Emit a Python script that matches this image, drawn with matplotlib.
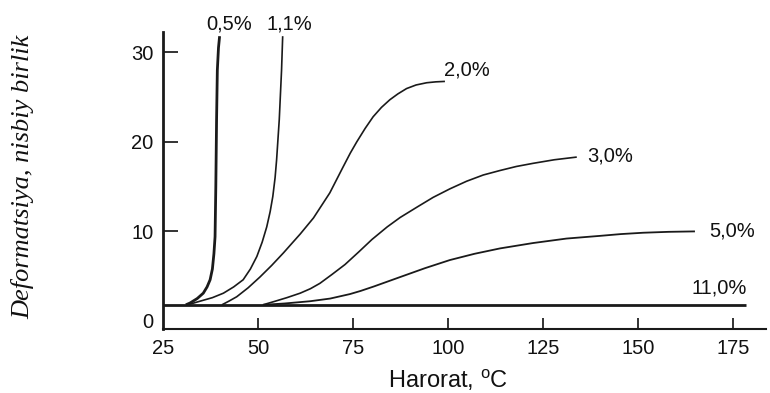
import matplotlib
matplotlib.use("Agg")
import matplotlib.pyplot as plt

plt.rcParams['font.family'] = ['Liberation Sans', 'DejaVu Sans']
plt.rcParams['mathtext.default'] = 'regular'

# ---- data ----
series_labels = ["0,5%", "1,1%", "2,0%", "3,0%", "5,0%", "11,0%"]

t05 = [31.0, 32.1, 34.0, 35.6, 36.6, 37.4, 38.0, 38.4, 38.7, 38.9, 39.1, 39.3, 39.6, 39.9]
d05 = [1.8, 2.0, 2.5, 3.1, 3.8, 4.6, 5.8, 7.5, 9.4, 15.0, 22.5, 28.0, 30.5, 31.8]

t11 = [31.5, 34.7, 38.0, 40.9, 43.6, 46.1, 48.0, 49.7, 51.1, 52.3, 53.2, 53.9, 54.5, 54.9, 55.6, 56.2, 56.5]
d11 = [1.8, 2.2, 2.6, 3.1, 3.8, 4.6, 5.8, 7.2, 8.8, 10.5, 12.2, 13.9, 16.0, 18.0, 22.5, 28.0, 31.8]

t20 = [40.5, 42.3, 44.4, 47.4, 50.5, 53.6, 56.7, 59.0, 61.1, 64.6, 68.9, 72.4, 74.3, 76.0, 78.2,
       80.3, 82.5, 84.7, 86.8, 89.1, 91.6, 94.4, 96.8, 99.2]
d20 = [1.8, 2.2, 2.7, 3.7, 4.9, 6.2, 7.6, 8.7, 9.7, 11.5, 14.3, 17.2, 18.75, 20.0, 21.5,
       22.8, 23.85, 24.7, 25.35, 25.95, 26.35, 26.6, 26.7, 26.75]

t30 = [51.3, 54.5, 57.6, 61.1, 63.8, 66.3, 69.5, 72.9, 76.5, 80.0, 84.0, 87.4, 92.0, 96.1,
       100.5, 104.9, 109.3, 113.7, 118.0, 122.4, 128.0, 133.9]
d30 = [1.8, 2.2, 2.6, 3.1, 3.6, 4.2, 5.2, 6.3, 7.7, 9.1, 10.5, 11.55, 12.75, 13.8,
       14.75, 15.6, 16.3, 16.8, 17.25, 17.6, 18.0, 18.3]

t50 = [51.3, 57.0, 63.7, 69.0, 74.2, 77.0, 80.5, 87.4, 94.0, 100.5, 107.0, 113.7, 122.4, 131.2,
       140.0, 145.5, 151.4, 158.0, 165.0]
d50 = [1.8, 1.95, 2.2, 2.5, 3.0, 3.35, 3.85, 4.9, 5.9, 6.8, 7.5, 8.1, 8.7, 9.2,
       9.5, 9.7, 9.85, 9.95, 10.0]

t110 = [25.0, 178.5]
d110 = [1.8, 1.8]

x_ticks = [25, 50, 75, 100, 125, 150, 175]
y_ticks = [0, 10, 20, 30]

# ---- layout constants ----
label_pos = [(36.3, 33.2), (52.3, 33.2), (98.9, 28.0), (136.7, 18.4), (168.7, 10.0), (164.2, 3.7)]

fig = plt.figure(figsize=(7.7, 3.93), dpi=100)
ax = fig.add_axes([163 / 770, (393 - 329) / 393, 603 / 770, (329 - 31.7) / 393])

col = '#1a1a1a'
series = [(t05, d05, 2.0), (t11, d11, 1.2), (t20, d20, 1.2),
          (t30, d30, 1.2), (t50, d50, 1.3), (t110, d110, 2.0)]
for (t, d, lw) in series:
    ax.plot(t, d, color=col, lw=lw, solid_capstyle='butt', solid_joinstyle='round', clip_on=False)

for lab, (lx, ly) in zip(series_labels, label_pos):
    ax.text(lx, ly, lab, ha='left', va='center', fontsize=14.5, color='#111111')

ax.set_xlim(25, 183.7)
ax.set_ylim(-0.9, 32.3)
ax.set_xticks(x_ticks)
ax.set_yticks(y_ticks)
ax.tick_params(axis='y', direction='in', length=11, width=1.2, pad=7, labelsize=14.5, colors='#111111')
ax.tick_params(axis='x', direction='in', length=8, width=1.2, pad=7, labelsize=14.5, colors='#111111')
ax.yaxis.get_major_ticks()[0].tick1line.set_visible(False)
ax.xaxis.get_major_ticks()[0].tick1line.set_visible(False)

for s in ['top', 'right']:
    ax.spines[s].set_visible(False)
ax.spines['left'].set_linewidth(2.0)
ax.spines['bottom'].set_linewidth(1.5)
ax.spines['left'].set_color(col)
ax.spines['bottom'].set_color(col)

fig.text(448 / 770, 1 - 388.3 / 393, r'Harorat, $^{\mathregular{o}}$C', ha='center', va='baseline',
         fontsize=17, color='#111111')
fig.text(22.5 / 770, 1 - 176.7 / 393, 'Deformatsiya, nisbiy birlik', rotation=90,
         ha='center', va='center', fontsize=19, family='Liberation Serif', style='italic',
         color='#111111')

fig.savefig('out.png', dpi=100)
